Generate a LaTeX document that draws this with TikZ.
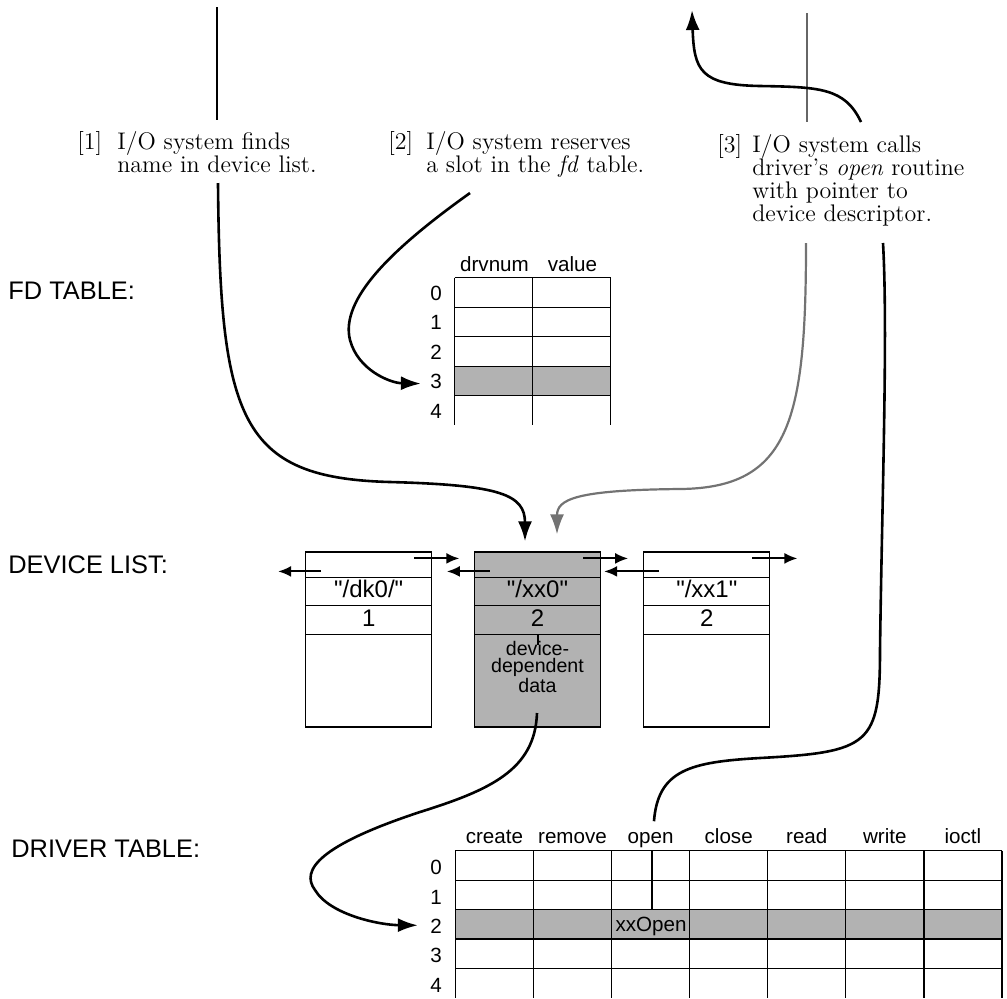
\documentclass[tikz,border=0pt]{standalone}
\usepackage{fontspec}
\setsansfont{Liberation Sans}[Ligatures=TeXOff]
\usetikzlibrary{arrows.meta,calc,positioning}

\begin{document}
\begin{tikzpicture}[
    x=0.5pt, y=-0.5pt,
    note/.style={font=\fontsize{12}{11.5}\selectfont, align=left, inner sep=0, anchor=base west},
    section/.style={font=\sffamily\fontsize{12.7}{15}\selectfont, inner sep=0, anchor=base west},
    tabtext/.style={font=\sffamily\fontsize{10.3}{12}\selectfont, inner sep=0, anchor=base},
    devtext/.style={font=\sffamily\fontsize{12}{14}\selectfont, inner sep=0, anchor=base},
    devbox/.style={draw, line width=0.6pt, minimum width=63pt, minimum height=87.5pt, inner sep=0},
    tabline/.style={line width=0.6pt},
    hilite/.style={fill=black!30},
    link/.style={line width=1.3pt, -{Latex[length=10pt,width=7pt]}},
    wire/.style={line width=1.3pt},
    ptr/.style={line width=1pt, -{Latex[length=6.5pt,width=5.5pt]}},
]
    \useasboundingbox (0,0) rectangle (1007,998);

    % Notes (base = last line)
    \node[note] (n1num) at (77,149) {[1]};
    \node[note] (n1) at (117,172) {I/O system finds\\name in device list.};
    \node[note] (n2num) at (388,149) {[2]};
    \node[note] (n2) at (426,172) {I/O system reserves\\a slot in the \emph{fd} table.};
    \node[note] (n3num) at (717,152) {[3]};
    \node[note] (n3) at (752,221) {I/O system calls\\driver's \emph{open} routine\\with pointer to\\device descriptor.};

    % Section titles
    \node[section] (fdtitle) at (8,299) {FD TABLE:};
    \node[section] (devtitle) at (8,573) {DEVICE LIST:};
    \node[section] (drvtitle) at (11,857) {DRIVER TABLE:};

    % FD table
    \fill[hilite] (454.7,366.2) rectangle (610.7,395.7);
    \foreach \y in {277.7,307.2,336.7,366.2,395.7}
        \draw[tabline] (454.7,\y) -- (610.7,\y);
    \foreach \x in {454.7,532.7,610.7}
        \draw[tabline] (\x,277.7) -- (\x,425);
    \foreach \r in {0,...,4}
        \node[tabtext] (fd\r) at (436,{300.2+29.5*\r}) {\r};
    \node[tabtext] (drvnum) at (494.5,271.5) {drvnum};
    \node[tabtext] (value) at (572.5,271.5) {value};

    % Device list
    \node[devbox] (dk0) at (368.7,639.5) {};
    \node[devbox, hilite] (xx0) at (537.5,639.5) {};
    \node[devbox] (xx1) at (706.8,639.5) {};
    \foreach \b in {dk0,xx0,xx1}
        \foreach \d in {26.3,54,83}
            \draw[tabline] ($(\b.north west)+(0,\d)$) -- ($(\b.north east)+(0,\d)$);
    \node[devtext] (dk0name) at ($(dk0.north)+(0,46)$) {"/dk0/"};
    \node[devtext] (dk0num) at ($(dk0.north)+(0,75)$) {1};
    \node[devtext] (xx0name) at ($(xx0.north)+(0,46)$) {"/xx0"};
    \node[devtext] (xx0num) at ($(xx0.north)+(0,75)$) {2};
    \node[devtext] (xx1name) at ($(xx1.north)+(0,46)$) {"/xx1"};
    \node[devtext] (xx1num) at ($(xx1.north)+(0,75)$) {2};
    \node[tabtext, font=\sffamily\fontsize{9.8}{8.4}\selectfont, align=center] (xx0data)
        at ($(xx0.north)+(0,141.5)$) {device-\\dependent\\data};
    \draw[line width=1pt] ($(xx0.north)+(0,83)$) -- ++(0,11);

    % List pointers
    \foreach \b/\l in {dk0/43,xx0/43,xx1/55} {
        \draw[ptr] ($(\b.north west)+(16,20)$) -- ++(-\l,0);
        \draw[ptr] ($(\b.north east)+(-18,7)$) -- ++(45,0);
    }

    % Driver table
    \fill[hilite] (455.4,909.5) rectangle (1002,938.9);
    \foreach \y in {850.7,880.1,909.5,938.9,968.3}
        \draw[tabline] (455.4,\y) -- (1002,\y);
    \foreach \k in {0,...,7}
        \draw[tabline] ({455.4+78.09*\k},850.7) -- ({455.4+78.09*\k},998);
    \foreach \h [count=\k from 0] in {create,remove,open,close,read,write,ioctl}
        \node[tabtext] (h\h) at ({494.4+78.09*\k},843.5) {\h};
    \foreach \r in {0,...,4}
        \node[tabtext] (dr\r) at (436,{874.7+29.4*\r}) {\r};
    \node[tabtext] (xxopen) at (651,931) {xxOpen};
    \draw[line width=1pt] (651.6,850.7) -- (651.6,909.5);

    % Free ends
    \coordinate (n1head) at (217,7);
    \coordinate (n1top) at (217,120);
    \coordinate (n1foot) at (218,183);
    \coordinate (n2foot) at (470,193);
    \coordinate (n3head) at (807,13);
    \coordinate (n3top) at (807,122);
    \coordinate (n3grey) at (806,243);
    \coordinate (n3black) at (883,243);
    \coordinate (n3hook) at (861,122);
    \coordinate (n3up) at (692,10);
    \coordinate (ddfoot) at (537,713);

    % Arrows
    \draw[wire] (n1head) -- (n1top);
    \draw[link] (n1foot) .. controls (220,420) and (240,478) .. (390,482)
        .. controls (500,485) and ($(xx0.north)+(-12.5,-57)$) .. ($(xx0.north)+(-12.5,-10)$);
    \draw[link] (n2foot) .. controls (390,250) and (340,300) .. (350,340)
        .. controls (358,370) and (390,383) .. ($(fd3.west)+(-9,2)$);
    \draw[line width=1pt, black!60] (n3head) -- (n3top);
    \draw[link, line width=1.1pt, black!55] (n3grey) .. controls (806,420) and (790,488) .. (680,489)
        .. controls (575,490) and ($(xx0.north)+(19.5,-52)$) .. ($(xx0.north)+(19.5,-17)$);
    \draw[link] (n3hook) .. controls (845,88) and (820,87) .. (760,86)
        .. controls (700,85) and (694,70) .. (n3up);
    \draw[wire] (n3black) .. controls (888,330) and (882,500) .. (880,650)
        .. controls (880,745) and (870,752) .. (760,758)
        .. controls (690,762) and (658,770) .. ($(hopen.north)+(3.4,-10.8)$);
    \draw[link] (ddfoot) .. controls (535,770) and (490,790) .. (420,812)
        .. controls (320,845) and (300,870) .. (315,890)
        .. controls (330,915) and (380,925) .. ($(dr2.west)+(-12,-1)$);
\end{tikzpicture}
\end{document}
